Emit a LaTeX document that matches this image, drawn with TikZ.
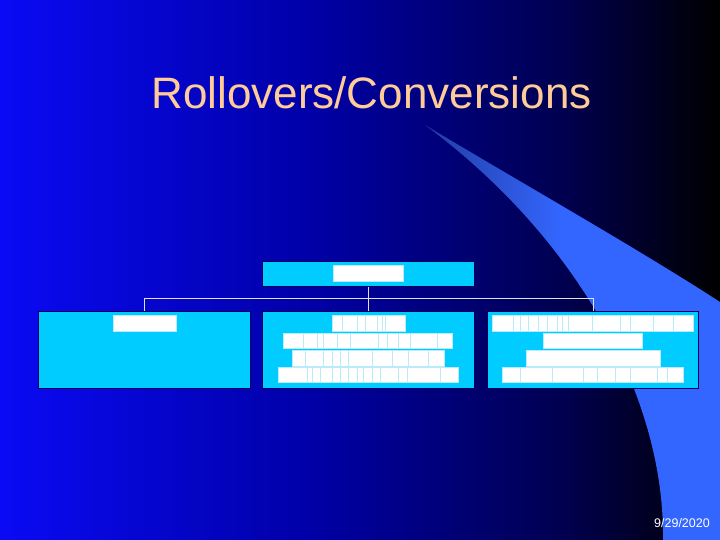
\documentclass[tikz,border=0pt]{standalone}
\usepackage{fontspec}
\setmainfont{Liberation Sans}
\definecolor{bgA}{RGB}{10,10,245}
\definecolor{bgB}{RGB}{0,0,165}
\definecolor{bgC}{RGB}{0,0,80}
\definecolor{swoosh}{RGB}{51,102,255}
\definecolor{swooshdark}{RGB}{35,60,160}
\definecolor{boxcyan}{RGB}{0,204,255}
\definecolor{boxedge}{RGB}{0,0,90}
\definecolor{peach}{RGB}{255,204,153}
\definecolor{divc}{RGB}{185,235,250}
\definecolor{linec}{RGB}{225,225,235}
\pgfdeclarehorizontalshading{bgshade}{100bp}{color(0bp)=(bgA); color(25bp)=(bgA); color(47bp)=(bgB); color(64bp)=(bgC); color(75bp)=(black); color(100bp)=(black)}
\pgfdeclarehorizontalshading{swshade}{100bp}{color(0bp)=(swooshdark); color(25bp)=(swooshdark); color(48bp)=(swoosh); color(100bp)=(swoosh)}
\tikzset{
  orgbox/.style={draw=boxedge, line width=1pt, fill=boxcyan, rectangle, inner sep=0pt},
  barw/.style={fill=white, draw=divc, line width=0.4pt, rectangle, inner sep=0pt},
  divider/.style={draw=divc, line width=0.5pt},
  conn/.style={draw=linec, line width=1pt},
}
\newcommand{\mkdiv}[4]{% node, ytop, ybot, list
  \foreach \xx in {#4} {\draw[divider] (\xx,#2) -- (\xx,#3);}}
\begin{document}
\begin{tikzpicture}[x=1pt,y=-1pt]
\useasboundingbox (0,0) rectangle (720,540);
\shade[shading=bgshade] (0,0) rectangle (720,540);
% swoosh
\shade[shading=swshade] (425,125) .. controls (520,182) and (640,250) .. (720,302)
  -- (720,540) -- (663,540) .. controls (665,400) and (580,240) .. (425,125) -- cycle;
% title
\node[anchor=base, text=peach, font=\fontsize{44}{50}\selectfont, inner sep=0pt] (title) at (371.5,109) {Rollovers/Conversions};
% boxes
\node[orgbox, minimum width=212pt, minimum height=25pt] (top) at (368,273.5) {};
\node[orgbox, minimum width=212pt, minimum height=77pt] (left) at (144,349.5) {};
\node[orgbox, minimum width=212pt, minimum height=77pt] (mid) at (368,349.5) {};
\node[orgbox, minimum width=211pt, minimum height=77pt] (right) at (592.5,349.5) {};
% connectors
\coordinate (hub) at (368,298);
\coordinate (hl) at (144,298);
\coordinate (hr) at (593,298);
\draw[conn] (top.south) -- (hub);
\draw[conn] (hl) -- (hr);
\draw[conn] (hl) -- (hl |- left.north);
\draw[conn] (hub) -- (mid.north);
\draw[conn] (hr) -- (hr |- right.north);
% bars: top
\node[barw, minimum width=70pt, minimum height=16pt] (tb) at (368,273) {};
% left
\node[barw, minimum width=63pt, minimum height=16pt] (lb1) at (144.5,323) {};
% middle
\node[barw, minimum width=73pt, minimum height=16pt] (mb1) at (368.5,323) {};
\node[barw, minimum width=169pt, minimum height=15pt] (mb2) at (367.5,340.5) {};
\node[barw, minimum width=152pt, minimum height=16pt] (mb3) at (368,358) {};
\node[barw, minimum width=180pt, minimum height=15pt] (mb4) at (368,374.5) {};
\mkdiv{mb1}{315}{331}{342,357,365,377,382,385}
\mkdiv{mb2}{333}{348}{303,317,323,337,350,378,387,398,410,437}
\mkdiv{mb3}{350}{366}{305,323,332,340,348,372,392,408,428}
\mkdiv{mb4}{367}{382}{307,312,320,332,340,348,357,363,372,380,398,407,440}
% right
\node[barw, minimum width=201pt, minimum height=16pt] (rb1) at (592.5,323) {};
\node[barw, minimum width=99pt, minimum height=15pt] (rb2) at (592.5,340.5) {};
\node[barw, minimum width=134pt, minimum height=16pt] (rb3) at (593,358) {};
\node[barw, minimum width=181pt, minimum height=15pt] (rb4) at (592.5,374.5) {};
\mkdiv{rb1}{315}{331}{513,520,528,538,547,557,562,568,592,620,630,653,673}
\mkdiv{rb4}{367}{382}{520,552,583,597,615,630,657,667}
% date
\node[anchor=base east, text=white, font=\fontsize{12.5}{14}\selectfont, inner sep=0pt] (date) at (710,527) {9/29/2020};
\end{tikzpicture}
\end{document}
